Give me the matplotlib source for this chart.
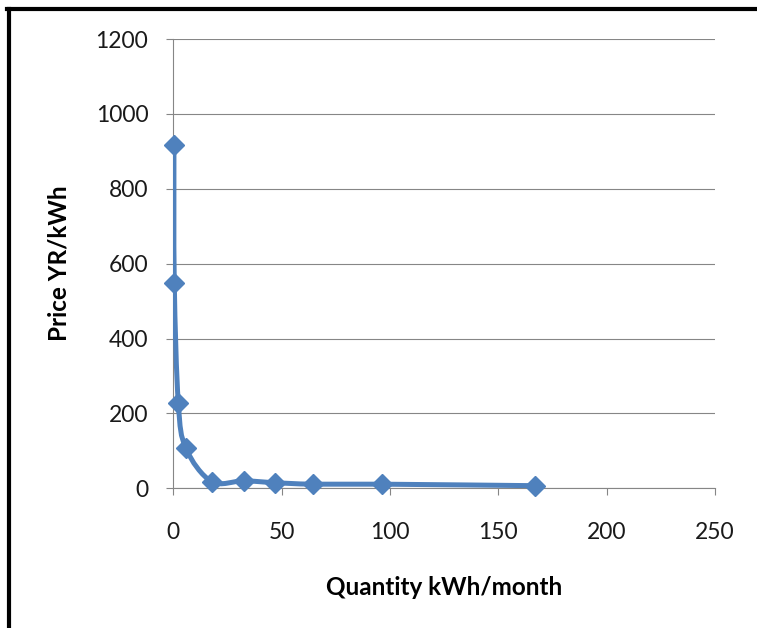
import matplotlib
matplotlib.use("Agg")
import matplotlib.pyplot as plt
import numpy as np
from matplotlib.path import Path
from matplotlib.patches import PathPatch
from matplotlib.lines import Line2D

# demand curve: monthly quantity vs price
quantity = [0.3, 0.45, 2.3, 5.8, 17.7, 32.5, 46.8, 64.4, 96.3, 166.8]
price = [917, 549, 229, 107, 18, 20, 15, 11, 11, 7]

x_ticks = [0, 50, 100, 150, 200, 250]
y_ticks = [0, 200, 400, 600, 800, 1000, 1200]

line_color = "#4F81BD"
grid_color = "#868686"

plt.rcParams["font.family"] = ["Lato", "DejaVu Sans"]

W, H = 757, 628
fig = plt.figure(figsize=(W / 100, H / 100), dpi=100)
ax = fig.add_axes([173.3 / W, 1 - 488.3 / H, (715 - 173.3) / W, (488.3 - 39) / H])

ax.set_xlim(0, 250)
ax.set_ylim(0, 1200)
ax.set_xticks(x_ticks)
ax.set_yticks(y_ticks)

ax.grid(axis="y", color=grid_color, linewidth=0.8)
ax.set_axisbelow(True)
for side in ["top", "right"]:
    ax.spines[side].set_visible(False)
for side in ["left", "bottom"]:
    ax.spines[side].set_color(grid_color)
    ax.spines[side].set_linewidth(0.8)

ax.tick_params(axis="both", direction="out", length=5, width=0.8,
               color=grid_color, labelsize=16.5, labelcolor="#1a1a1a")
ax.tick_params(axis="y", pad=13)
ax.tick_params(axis="x", pad=19)


def smooth_path(xs, ys):
    # Catmull-Rom style smoothing done in screen space, mapped back to data
    pts = ax.transData.transform(np.column_stack([xs, ys]))
    n = len(pts)
    verts = [pts[0]]
    codes = [Path.MOVETO]
    for i in range(n - 1):
        p0 = pts[i - 1] if i > 0 else pts[i]
        p1 = pts[i]
        p2 = pts[i + 1]
        p3 = pts[i + 2] if i + 2 < n else pts[i + 1]
        c1 = p1 + (p2 - p0) / 6.0
        c2 = p2 - (p3 - p1) / 6.0
        verts += [c1, c2, p2]
        codes += [Path.CURVE4] * 3
    verts = ax.transData.inverted().transform(np.array(verts))
    return Path(verts, codes)


ax.add_patch(PathPatch(smooth_path(quantity, price), facecolor="none",
                       edgecolor=line_color, linewidth=3.6, capstyle="round",
                       joinstyle="round", zorder=3))
ax.plot(quantity, price, linestyle="none", marker="D", markersize=10,
        color=line_color, clip_on=False, zorder=4)

ax.set_xlabel("Quantity kWh/month", fontsize=17.5, fontweight="bold",
              labelpad=24)
ax.set_ylabel("Price YR/kWh", fontsize=17.5, fontweight="bold",
              labelpad=18)

# black frame along the top and left edges
fig.add_artist(Line2D([9 / W, 9 / W], [0, 1 - 9 / H], color="black",
                      linewidth=3, transform=fig.transFigure))
fig.add_artist(Line2D([7 / W, 1], [1 - 9 / H, 1 - 9 / H], color="black",
                      linewidth=3, transform=fig.transFigure))

fig.savefig("out.png", dpi=100)
